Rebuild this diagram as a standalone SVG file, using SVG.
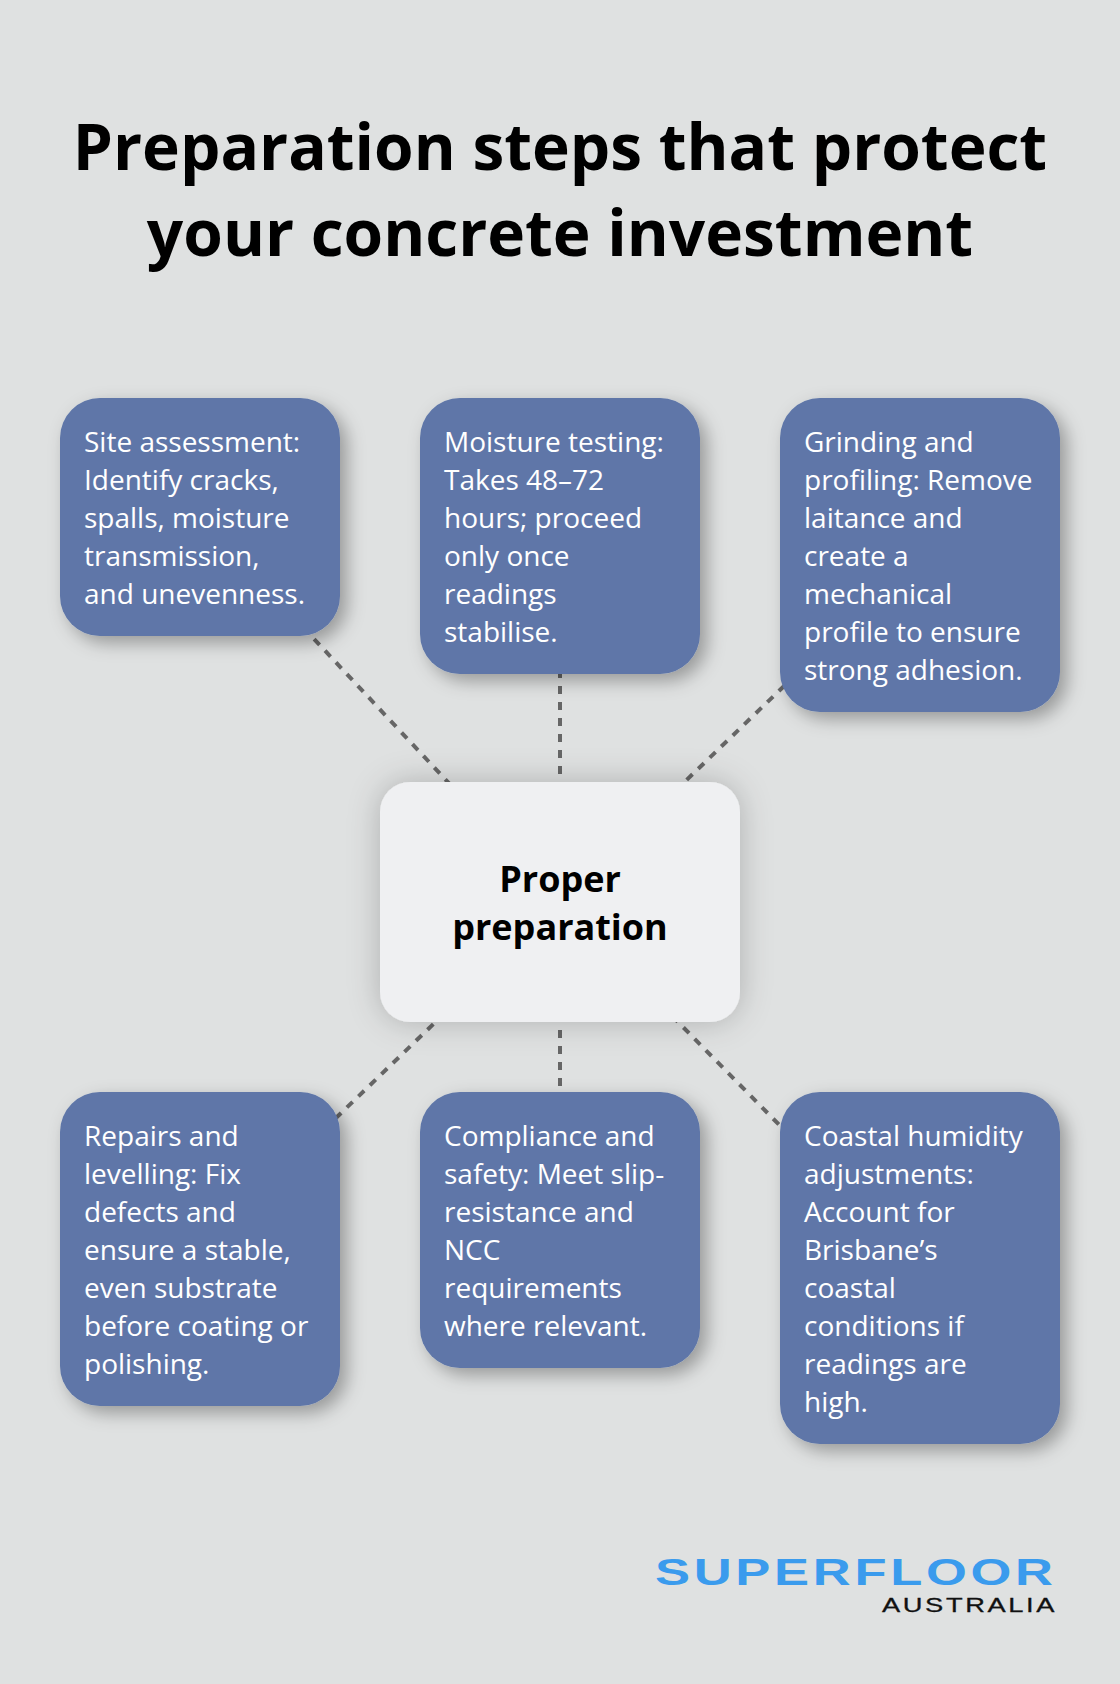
<svg xmlns="http://www.w3.org/2000/svg" width="1120" height="1684" viewBox="0 0 1120 1684">
<style>
text{font-family:"Open Sans","Noto Sans",sans-serif}
.title{font-size:64px;font-weight:700;fill:#000;text-anchor:middle}
.step rect{fill:#5e76a8;filter:url(#ss)}
.step text{font-size:28px;fill:#fff}
.hub rect{fill:#eff0f2;filter:url(#hs)}
.hub text{font-size:36px;font-weight:700;fill:#000;text-anchor:middle}
#connectors line{stroke:#666;stroke-width:4;stroke-dasharray:8 8}
#logo text{font-family:"Liberation Sans",Arial,sans-serif}
</style>
<defs>
<filter id="ss" x="-30%" y="-30%" width="160%" height="160%"><feDropShadow dx="7" dy="7" stdDeviation="9" flood-color="#000" flood-opacity="0.32"/></filter>
<filter id="hs" x="-30%" y="-30%" width="160%" height="160%"><feDropShadow dx="0" dy="0" stdDeviation="16" flood-color="#000" flood-opacity="0.22"/></filter>
</defs>
<rect id="background" width="1120" height="1684" fill="#dfe1e1"/>
<g id="title"><text class="title" x="560" y="170">Preparation steps that protect</text><text class="title" x="560" y="256">your concrete investment</text></g>
<g id="connectors">
<line x1="560" y1="902" x2="200" y2="517"/>
<line x1="560" y1="902" x2="560" y2="536"/>
<line x1="560" y1="902" x2="920" y2="555"/>
<line x1="560" y1="902" x2="200" y2="1249"/>
<line x1="560" y1="902" x2="560" y2="1230"/>
<line x1="560" y1="902" x2="920" y2="1268"/>
</g>
<g id="node-site" class="step"><rect x="60" y="398" width="280" height="238" rx="40"/><text x="84"><tspan x="84" y="452">Site assessment:</tspan><tspan x="84" y="490">Identify cracks,</tspan><tspan x="84" y="528">spalls, moisture</tspan><tspan x="84" y="566">transmission,</tspan><tspan x="84" y="604">and unevenness.</tspan></text></g>
<g id="node-moisture" class="step"><rect x="420" y="398" width="280" height="276" rx="40"/><text><tspan x="444" y="452">Moisture testing:</tspan><tspan x="444" y="490">Takes 48–72</tspan><tspan x="444" y="528">hours; proceed</tspan><tspan x="444" y="566">only once</tspan><tspan x="444" y="604">readings</tspan><tspan x="444" y="642">stabilise.</tspan></text></g>
<g id="node-grinding" class="step"><rect x="780" y="398" width="280" height="314" rx="40"/><text><tspan x="804" y="452">Grinding and</tspan><tspan x="804" y="490">profiling: Remove</tspan><tspan x="804" y="528">laitance and</tspan><tspan x="804" y="566">create a</tspan><tspan x="804" y="604">mechanical</tspan><tspan x="804" y="642">profile to ensure</tspan><tspan x="804" y="680">strong adhesion.</tspan></text></g>
<g id="node-hub" class="hub"><rect x="380" y="782" width="360" height="240" rx="30"/><text><tspan x="560" y="892">Proper</tspan><tspan x="560" y="940">preparation</tspan></text></g>
<g id="node-repairs" class="step"><rect x="60" y="1092" width="280" height="314" rx="40"/><text><tspan x="84" y="1146">Repairs and</tspan><tspan x="84" y="1184">levelling: Fix</tspan><tspan x="84" y="1222">defects and</tspan><tspan x="84" y="1260">ensure a stable,</tspan><tspan x="84" y="1298">even substrate</tspan><tspan x="84" y="1336">before coating or</tspan><tspan x="84" y="1374">polishing.</tspan></text></g>
<g id="node-compliance" class="step"><rect x="420" y="1092" width="280" height="276" rx="40"/><text><tspan x="444" y="1146">Compliance and</tspan><tspan x="444" y="1184">safety: Meet slip-</tspan><tspan x="444" y="1222">resistance and</tspan><tspan x="444" y="1260">NCC</tspan><tspan x="444" y="1298">requirements</tspan><tspan x="444" y="1336">where relevant.</tspan></text></g>
<g id="node-coastal" class="step"><rect x="780" y="1092" width="280" height="352" rx="40"/><text><tspan x="804" y="1146">Coastal humidity</tspan><tspan x="804" y="1184">adjustments:</tspan><tspan x="804" y="1222">Account for</tspan><tspan x="804" y="1260">Brisbane’s</tspan><tspan x="804" y="1298">coastal</tspan><tspan x="804" y="1336">conditions if</tspan><tspan x="804" y="1374">readings are</tspan><tspan x="804" y="1412">high.</tspan></text></g>
<g id="logo"><text transform="translate(655 1585) scale(1.42 1)" font-size="37" font-weight="700" letter-spacing="2.6" fill="#3a9bed">SUPERFLOOR</text><text transform="translate(882 1612) scale(1.3 1)" font-size="21" letter-spacing="2" fill="#111" stroke="#111" stroke-width="0.3">AUSTRALIA</text></g>
</svg>
